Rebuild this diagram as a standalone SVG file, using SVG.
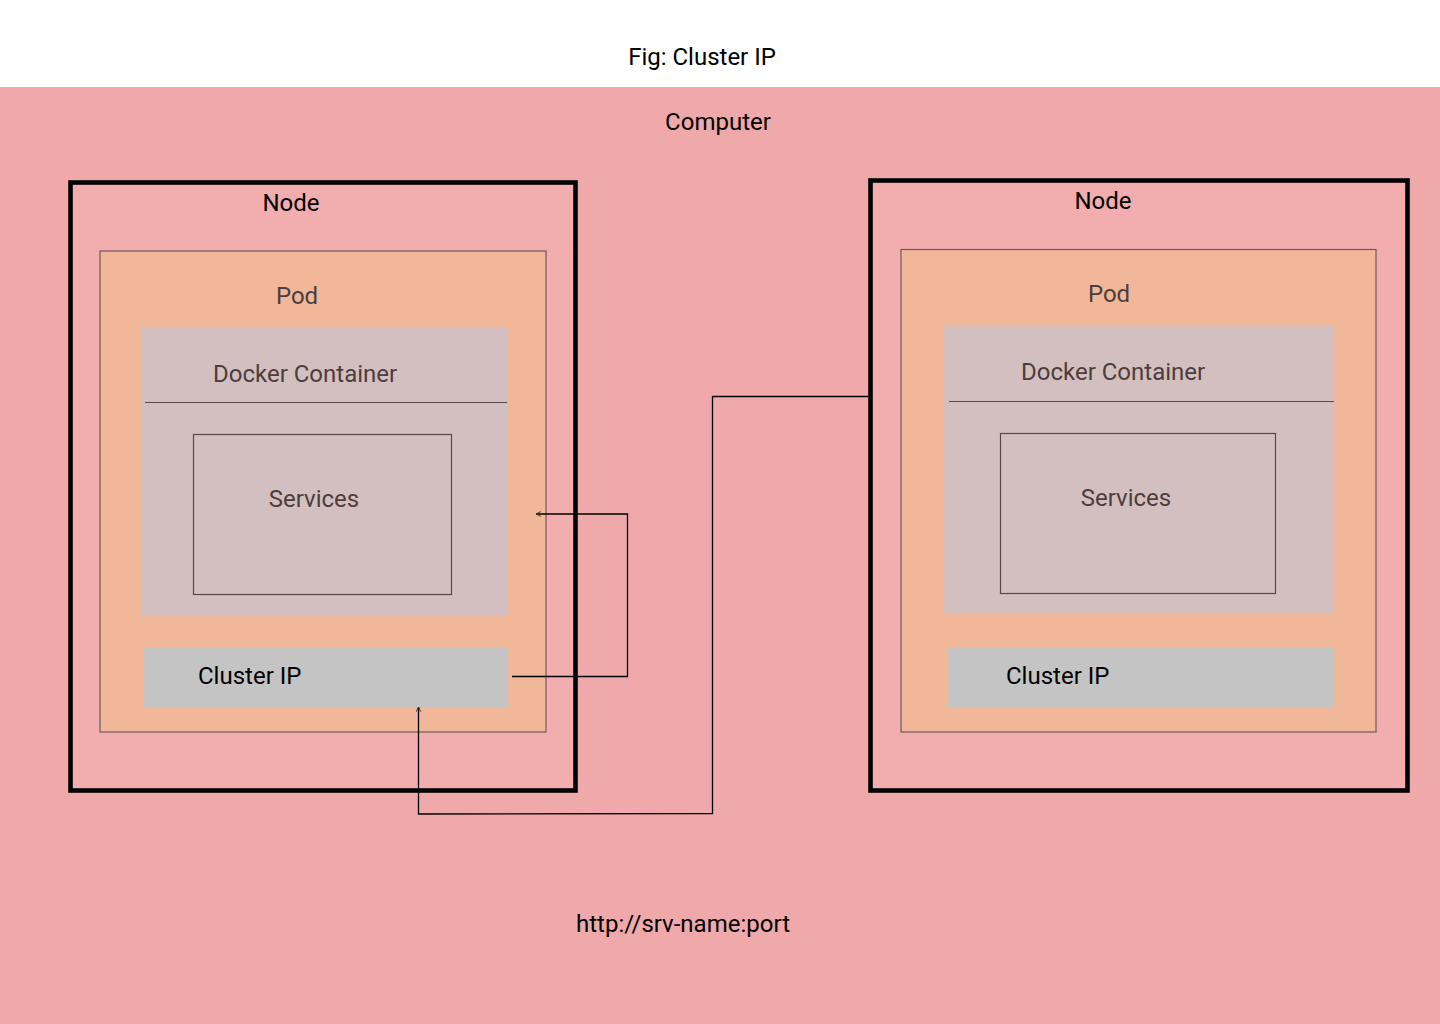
<svg xmlns="http://www.w3.org/2000/svg" width="1440" height="1024" viewBox="0 0 1440 1024">
<defs>
<style>
text{font-family:Roboto,"Liberation Sans",sans-serif;font-size:24px;}
.dark{fill:#000;}
.brown{fill:#4d3d3d;}
.node{fill:#F2ADAE;stroke:#000;stroke-width:4.6;}
.pod{fill:#F0B799;stroke:#6e5a5a;stroke-width:1.2;}
.docker{fill:#D3BFBF;}
.svc{fill:none;stroke:#5a4848;stroke-width:1.2;}
.cip{fill:#C4C4C4;}
.conn{fill:none;stroke:#000;stroke-width:1.3;}
</style>
<marker id="arr" viewBox="0 0 10 10" refX="9" refY="5" markerWidth="6" markerHeight="6" orient="auto" markerUnits="userSpaceOnUse">
<path d="M1,1 L9,5 L1,9" fill="none" stroke="#333" stroke-width="1.5"/>
</marker>
</defs>
<rect x="0" y="0" width="1440" height="1024" fill="#fff"/>
<text x="702" y="65" text-anchor="middle" class="dark">Fig: Cluster IP</text>
<g id="computer">
<rect x="0" y="87" width="1440" height="937" fill="#EFA9AA"/>
<text x="718" y="130" text-anchor="middle" class="dark">Computer</text>
<text x="683" y="932" text-anchor="middle" class="dark">http://srv-name:port</text>
</g>
<g id="node-left">
<rect x="70.5" y="182.5" width="505" height="608" class="node"/>
<text x="291" y="211" text-anchor="middle" class="dark">Node</text>
</g>
<g id="pod-left">
<rect x="100" y="251" width="446" height="481" class="pod"/>
<text x="297" y="304" text-anchor="middle" class="brown">Pod</text>
</g>
<g id="docker-left">
<rect x="141" y="328" width="367" height="287" class="docker"/>
<text x="213" y="382" class="brown">Docker Container</text>
<line x1="145" y1="402.5" x2="507" y2="402.5" stroke="#5a4848" stroke-width="1.2"/>
</g>
<g id="services-left">
<rect x="193.5" y="434.5" width="258" height="160" class="svc"/>
<text x="314" y="507" text-anchor="middle" class="brown">Services</text>
</g>
<g id="clusterip-left">
<rect x="144" y="648" width="364" height="59" class="cip"/>
<text x="198" y="684" class="dark">Cluster IP</text>
</g>
<g id="node-right">
<rect x="870.5" y="180.5" width="537" height="610" class="node"/>
<text x="1103" y="209" text-anchor="middle" class="dark">Node</text>
</g>
<g id="pod-right">
<rect x="901" y="249.5" width="475" height="482.5" class="pod"/>
<text x="1109" y="302" text-anchor="middle" class="brown">Pod</text>
</g>
<g id="docker-right">
<rect x="944" y="326" width="390" height="288" class="docker"/>
<text x="1021" y="380" class="brown">Docker Container</text>
<line x1="949" y1="401.5" x2="1334" y2="401.5" stroke="#5a4848" stroke-width="1.2"/>
</g>
<g id="services-right">
<rect x="1000.5" y="433.5" width="275" height="160" class="svc"/>
<text x="1126" y="506" text-anchor="middle" class="brown">Services</text>
</g>
<g id="clusterip-right">
<rect x="948" y="648" width="386" height="59" class="cip"/>
<text x="1006" y="684" class="dark">Cluster IP</text>
</g>
<g id="connectors">
<polyline points="512,676.5 627.5,676.5 627.5,514 536,514" class="conn" marker-end="url(#arr)"/>
<polyline points="868,396.5 712.5,396.5 712.5,813.5 418.5,814 418.5,707" class="conn" marker-end="url(#arr)"/>
</g>
</svg>
